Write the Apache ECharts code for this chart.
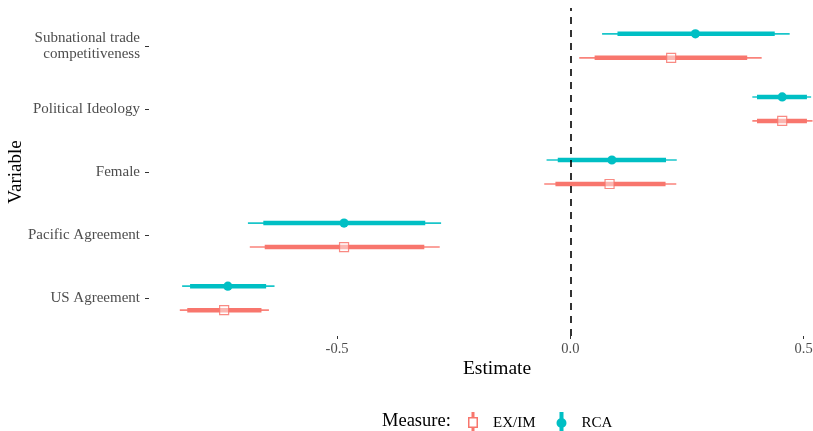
<!DOCTYPE html>
<html>
<head>
<meta charset="utf-8">
<script src="https://cdn.jsdelivr.net/npm/echarts@6/dist/echarts.min.js"></script>
<style>
  html, body { margin: 0; padding: 0; background: #fff; }
  #chart { width: 813px; height: 431px; }
</style>
</head>
<body>
<div id="chart"></div>
<script>
// variables from bottom to top
var variables = ['US Agreement', 'Pacific Agreement', 'Female', 'Political Ideology', 'Subnational trade\ncompetitiveness'];

// RCA estimates with inner (thick) and outer (thin) intervals
var rcaEst   = [-0.734, -0.485, 0.089, 0.454, 0.268];
var rcaLo    = [-0.815, -0.658, -0.027, 0.400, 0.101];
var rcaHi    = [-0.652, -0.311, 0.205, 0.507, 0.438];
var rcaLo95  = [-0.832, -0.691, -0.051, 0.390, 0.068];
var rcaHi95  = [-0.634, -0.277, 0.228, 0.516, 0.470];

// EX/IM estimates
var exEst    = [-0.742, -0.485, 0.084, 0.454, 0.216];
var exLo     = [-0.821, -0.655, -0.032, 0.400, 0.052];
var exHi     = [-0.662, -0.313, 0.204, 0.507, 0.379];
var exLo95   = [-0.837, -0.687, -0.056, 0.390, 0.019];
var exHi95   = [-0.646, -0.280, 0.227, 0.519, 0.410];

var xTicks = [-0.5, 0, 0.5];
var yTicks = [1, 2, 3, 4, 5];

var RED = '#F8766D', TEAL = '#00BFC4';
var FONT = 'Liberation Serif';

function buildData(est, lo, hi, lo95, hi95) {
    return variables.map(function (v, i) {
        return [est[i], lo[i], hi[i], lo95[i], hi95[i], i + 1];
    });
}

function makeRender(color, dodge, shape) {
    return function (params, api) {
        var y = api.value(5) + dodge;
        var a95 = api.coord([api.value(3), y]);
        var b95 = api.coord([api.value(4), y]);
        var a = api.coord([api.value(1), y]);
        var b = api.coord([api.value(2), y]);
        var p = api.coord([api.value(0), y]);
        var kids = [
            {type: 'line', shape: {x1: a95[0], y1: a95[1], x2: b95[0], y2: b95[1]},
             style: {stroke: color, lineWidth: 1.6, opacity: 0.9}},
            {type: 'line', shape: {x1: a[0], y1: a[1], x2: b[0], y2: b[1]},
             style: {stroke: color, lineWidth: 4.5}}
        ];
        if (shape === 'circle') {
            kids.push({type: 'circle', shape: {cx: p[0], cy: p[1], r: 4.6},
                       style: {fill: color}});
        } else {
            kids.push({type: 'rect', shape: {x: p[0] - 4.5, y: p[1] - 4.5, width: 9, height: 9},
                       style: {fill: 'rgba(255,255,255,0.55)', stroke: color, lineWidth: 1.2, opacity: 0.85}});
        }
        return {type: 'group', children: kids};
    };
}

var iconRCA = 'path://M8,0 L12,0 L12,22 L8,22 Z M10,6 A5,5 0 1,1 10,16 A5,5 0 1,1 10,6 Z';
var iconEX = 'path://M8.5,0 H11.5 V5 H15 V16 H11.5 V22 H8.5 V16 H5 V5 H8.5 Z M6.5,6.5 V14.5 H13.5 V6.5 Z';

var chart = echarts.init(document.getElementById('chart'));
chart.setOption({
    backgroundColor: '#fff',
    animation: false,
    title: [{
        text: 'Measure:', left: 377, top: 407,
        textStyle: {fontFamily: FONT, fontSize: 18.5, fontWeight: 'normal', color: '#000'}
    }],
    legend: {
        data: [{name: 'EX/IM', icon: iconEX}, {name: 'RCA', icon: iconRCA}],
        left: 463, top: 407,
        itemWidth: 30, itemHeight: 22, itemGap: 21,
        textStyle: {fontFamily: FONT, fontSize: 15, color: '#000'}
    },
    grid: {left: 149, right: 0, top: 8, bottom: 95, outerBoundsMode: 'none', containLabel: false},
    xAxis: {
        type: 'value', min: -0.903, max: 0.520,
        name: 'Estimate', nameLocation: 'middle', nameGap: 23, nameMoveOverlap: false,
        nameTextStyle: {fontFamily: FONT, fontSize: 19.5, color: '#000', padding: [0, 0, 0, 32]},
        axisLine: {show: false, onZero: false},
        axisTick: {show: true, length: 3, lineStyle: {color: '#333'}, customValues: xTicks},
        axisLabel: {
            customValues: xTicks, margin: 6,
            fontFamily: FONT, fontSize: 14.5, color: '#4d4d4d',
            formatter: function (v) { return v.toFixed(1); }
        },
        splitLine: {show: false}
    },
    yAxis: {
        type: 'value', min: 0.4, max: 5.6,
        name: 'Variable', nameLocation: 'middle', nameGap: 123, nameRotate: 90, nameMoveOverlap: false,
        nameTextStyle: {fontFamily: FONT, fontSize: 19, color: '#000'},
        axisLine: {show: false, onZero: false},
        axisTick: {show: true, length: 4, lineStyle: {color: '#333'}, customValues: yTicks},
        axisLabel: {
            customValues: yTicks, margin: 9,
            fontFamily: FONT, fontSize: 15, color: '#4d4d4d', lineHeight: 16, align: 'right',
            formatter: function (v) { return variables[Math.round(v) - 1]; }
        },
        splitLine: {show: false}
    },
    series: [
        {
            name: 'EX/IM', type: 'custom', color: RED,
            renderItem: makeRender(RED, -0.19, 'square'),
            encode: {x: [0, 1, 2, 3, 4], y: 5},
            data: buildData(exEst, exLo, exHi, exLo95, exHi95),
            markLine: {
                silent: true, symbol: 'none', label: {show: false},
                lineStyle: {color: '#000', type: [7, 6], width: 1.6},
                data: [{xAxis: 0}]
            }
        },
        {
            name: 'RCA', type: 'custom', color: TEAL,
            renderItem: makeRender(TEAL, 0.19, 'circle'),
            encode: {x: [0, 1, 2, 3, 4], y: 5},
            data: buildData(rcaEst, rcaLo, rcaHi, rcaLo95, rcaHi95)
        }
    ]
});
</script>
</body>
</html>
